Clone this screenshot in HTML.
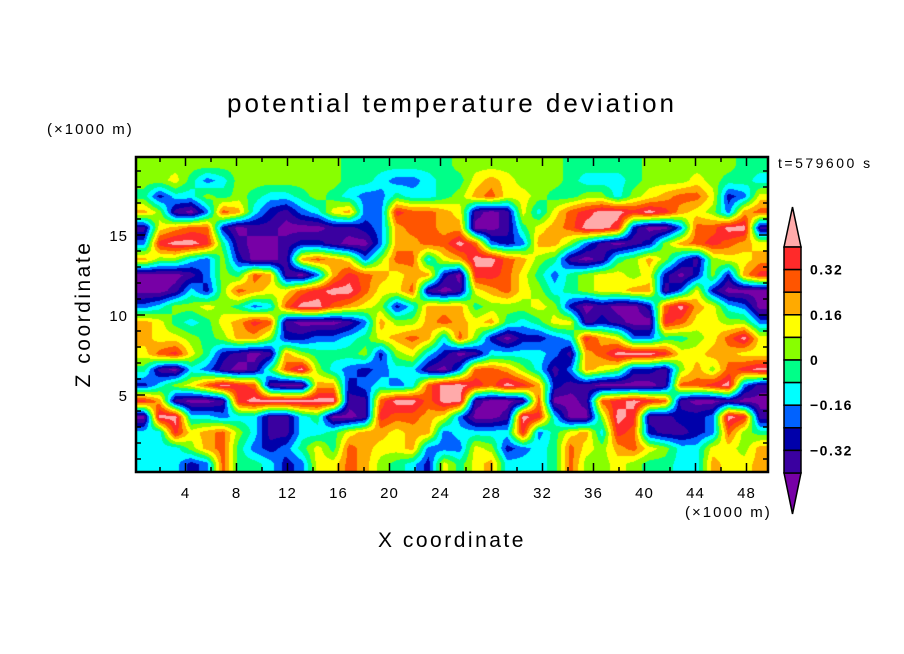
<!DOCTYPE html>
<html><head><meta charset="utf-8"><style>
body{margin:0;background:#fff;width:904px;height:654px;overflow:hidden;position:relative;font-family:"Liberation Sans","DejaVu Sans",sans-serif}
canvas{position:absolute;left:136px;top:157px}
svg{position:absolute;left:0;top:0}
</style></head><body>
<canvas id="field" width="632" height="315"></canvas>
<svg id="ov" width="904" height="654"></svg>
<script>
// potential temperature deviation, values in 0.01 K, rows top (z high) to bottom (z low), 40 columns across x
const fieldRows = [
[4,4,4,4,4,4,4,4,4,4,4,4,4,-4,-4,-4,-4,-4,-4,-4,4,4,4,4,4,4,4,-4,-4,-4,-4,-4,4,4,4,4,4,4,-4,-4],
[4,4,12,-4,-20,-12,4,4,4,4,4,4,4,-4,-4,-12,-20,-20,-12,-4,-4,12,20,12,4,4,4,-4,-12,-12,-12,-4,4,4,4,12,4,-4,-4,-12],
[-4,-28,-12,-12,4,-4,4,-4,-12,-12,-4,4,-4,-12,-20,-20,-4,-12,-12,-4,4,20,28,12,12,4,-4,-4,4,4,-12,4,12,20,28,28,12,-28,-20,12],
[20,4,-36,-44,-20,28,20,-12,-28,-36,-20,-12,12,20,-20,-20,36,28,28,20,12,-36,-44,-36,12,-12,12,28,36,44,44,36,44,36,20,12,4,-20,20,28],
[-36,12,20,28,28,-28,-44,-36,-36,-44,-44,-44,-36,-36,-28,-20,20,28,28,20,20,-44,-44,-36,-4,12,20,28,44,44,36,-28,-44,-44,-20,28,28,44,44,-36],
[-20,36,44,44,36,-4,-36,-44,-44,-36,-28,-28,-36,-44,-44,-20,20,20,28,28,44,28,-20,-28,-20,20,20,4,-20,-36,-44,-36,-28,4,20,28,36,28,20,12],
[20,4,4,-12,-20,4,-28,-44,-44,-36,20,28,20,12,-20,4,28,28,-12,12,20,44,44,28,20,4,-4,-36,-44,-36,-4,4,20,4,-20,-36,4,12,12,20],
[-44,-44,-44,-36,-20,4,-4,28,20,-36,-44,-20,20,36,28,20,12,20,20,-28,-44,36,36,28,12,-4,-20,-4,4,12,12,4,12,-28,-44,-28,4,-28,20,36],
[-44,-44,-36,-12,-28,4,28,20,12,12,28,36,44,44,28,12,12,28,-36,-44,-36,12,20,28,12,4,-12,-4,4,12,12,20,20,-36,-20,12,-28,-44,-44,-44],
[-20,-12,4,4,12,4,-4,-20,-12,28,44,44,28,20,12,4,-28,-12,20,20,20,-4,4,4,4,12,4,-28,-44,-36,-44,-44,-28,28,44,20,12,-12,-20,-44],
[20,12,-4,-12,-4,12,20,36,28,-36,-44,-44,-44,-36,-20,20,4,4,20,28,20,12,20,-4,-12,-4,12,12,-36,-28,-36,-44,-44,36,28,12,12,4,4,-20],
[20,12,12,4,-4,4,20,20,4,-28,-28,-20,-20,-12,-4,12,20,28,20,-12,28,4,-28,-44,-28,-28,-20,-12,36,20,12,-20,-20,-4,-4,4,12,28,44,12],
[12,28,36,12,-4,-28,-36,-44,-36,20,4,-4,-4,-4,4,-28,4,12,-12,-28,-44,-36,-12,-12,-12,-12,-20,-36,20,28,44,44,44,36,12,12,20,20,12,12],
[-4,-36,-44,-12,-20,-36,-44,-36,-4,28,44,4,-12,-20,-28,-20,-12,-12,-36,-44,-20,28,28,20,4,-12,-36,-20,20,12,4,-28,-28,-36,4,20,4,28,36,44],
[-28,-12,4,12,28,44,36,28,-36,-44,-44,20,20,-28,-20,-12,-20,-12,28,44,44,36,28,44,36,20,-28,-36,-36,-44,-44,-44,-44,-36,28,28,36,44,-20,-36],
[36,20,-36,-44,-44,-36,36,44,44,44,44,44,44,-36,-36,28,44,44,28,44,44,-36,-44,-44,-36,28,-44,-44,-36,28,36,44,36,28,-36,-44,-44,-36,-44,-44],
[-44,44,44,-12,-12,-20,-12,-12,-36,-36,-12,-4,-44,-44,-36,36,28,28,20,12,-20,-44,-44,-36,44,36,-12,-44,-44,4,44,36,-36,-36,-28,-28,-20,44,36,-36],
[-12,-12,36,12,20,28,4,-12,-36,-36,-12,-12,-4,12,20,20,12,20,20,-20,-12,-12,-12,-12,36,-20,-4,12,20,-12,36,28,-28,-36,-36,-28,-20,28,4,-4],
[-12,-12,-12,4,20,28,-4,-20,-28,-20,-4,12,-4,28,20,12,12,20,-20,-20,-20,12,4,-28,-20,-12,-4,28,12,4,20,28,12,4,-12,-12,12,12,4,20],
[-12,-12,-12,-28,-20,28,-4,-4,-12,-28,-20,12,12,28,20,4,-4,-12,-28,12,-4,12,20,-12,-12,-12,-4,28,4,4,12,4,-4,-4,-12,-12,20,12,12,20]
];
const contourLevels = [-0.40,-0.32,-0.24,-0.16,-0.08,0,0.08,0.16,0.24,0.32,0.40];
const levelColors = ['#7700a6','#3a00a0','#0000aa','#0062ff','#00ffff','#00ff88','#88ff00','#ffff00','#ffaa00','#ff5500','#ff2a2a','#ffaaaa'];
const xTickValues = [4,8,12,16,20,24,28,32,36,40,44,48];
const yTickValues = [5,10,15];
const colorbarLabels = [0.32,0.16,0,-0.16,-0.32];

const PX0=136,PX1=768,PY0=157,PY1=472;
const xScale = v => 134.5 + 12.75*v;
const yScale = v => 475 - 16*v;

(function(){
  const cv=document.getElementById('field'),ctx=cv.getContext('2d');
  const W=cv.width,H=cv.height,R=fieldRows.length,C=fieldRows[0].length;
  const img=ctx.createImageData(W,H);
  const rgb=levelColors.map(h=>[parseInt(h.substr(1,2),16),parseInt(h.substr(3,2),16),parseInt(h.substr(5,2),16)]);
  for(let py=0;py<H;py++){
    let gy=(py+0.5)/H*R-0.5; gy=Math.max(0,Math.min(R-1,gy));
    const r0=Math.floor(gy),r1=Math.min(R-1,r0+1),fy=gy-r0;
    for(let px=0;px<W;px++){
      let gx=(px+0.5)/W*C-0.5; gx=Math.max(0,Math.min(C-1,gx));
      const c0=Math.floor(gx),c1=Math.min(C-1,c0+1),fx=gx-c0;
      const v=((fieldRows[r0][c0]*(1-fx)+fieldRows[r0][c1]*fx)*(1-fy)+(fieldRows[r1][c0]*(1-fx)+fieldRows[r1][c1]*fx)*fy)/100;
      let k=0;while(k<contourLevels.length&&v>=contourLevels[k])k++;
      const i=(py*W+px)*4;img.data[i]=rgb[k][0];img.data[i+1]=rgb[k][1];img.data[i+2]=rgb[k][2];img.data[i+3]=255;
    }
  }
  ctx.putImageData(img,0,0);
})();

const NS='http://www.w3.org/2000/svg',svg=document.getElementById('ov');
function el(tag,attrs,text){const e=document.createElementNS(NS,tag);for(const k in attrs)e.setAttribute(k,attrs[k]);if(text!==undefined)e.textContent=text;svg.appendChild(e);return e;}

let e;
e=el('rect',{x:PX0,y:PY0,width:PX1-PX0,height:PY1-PY0,fill:'none',stroke:'#000','stroke-width':2.5});


for(let v=2;v<50;v+=2){const x=xScale(v);if(x>=PX1)continue;const L=(v%4===0)?9:5;
  e=el('line',{x1:x,y1:PY1,x2:x,y2:PY1-L,stroke:'#000','stroke-width':1.5});
  
  
  e=el('line',{x1:x,y1:PY0,x2:x,y2:PY0+L,stroke:'#000','stroke-width':1.5});
  
  
}
xTickValues.forEach(v=>{
  e=el('text',{x:xScale(v),y:498,'text-anchor':'middle','font-size':15,'letter-spacing':1},String(v));
  
  
});
for(let v=1;v<20;v++){const y=yScale(v);if(y<=PY0||y>=PY1)continue;const L=(v%5===0)?9:5;
  e=el('line',{x1:PX0,y1:y,x2:PX0+L,y2:y,stroke:'#000','stroke-width':1.5});
  
  
  e=el('line',{x1:PX1,y1:y,x2:PX1-L,y2:y,stroke:'#000','stroke-width':1.5});
  
  
}
yTickValues.forEach(v=>{
  e=el('text',{x:128,y:yScale(v)+6,'text-anchor':'end','font-size':15,'letter-spacing':1},String(v));
  
  
});
e=el('text',{x:452,y:112,'text-anchor':'middle','font-size':26,'letter-spacing':3},'potential temperature deviation');


e=el('text',{x:47,y:134,'font-size':15,'letter-spacing':2},'(×1000 m)');


e=el('text',{x:685,y:517,'font-size':15,'letter-spacing':2},'(×1000 m)');


e=el('text',{x:452,y:547,'text-anchor':'middle','font-size':21,'letter-spacing':2.5},'X coordinate');


e=el('text',{x:0,y:0,'text-anchor':'middle','font-size':21,'letter-spacing':2.5,transform:'translate(90,314) rotate(-90)'},'Z coordinate');


e=el('text',{x:778,y:168,'font-size':14,'letter-spacing':2.5},'t=579600 s');



const CB0=784,CB1=801,CBT=247,CBB=473,nb=levelColors.length-2,bh=(CBB-CBT)/nb;
e=el('polygon',{points:`${CB0},${CBT} ${(CB0+CB1)/2},207 ${CB1},${CBT}`,fill:levelColors[levelColors.length-1],stroke:'#000','stroke-width':1.5});


e=el('polygon',{points:`${CB0},${CBB} ${(CB0+CB1)/2},514 ${CB1},${CBB}`,fill:levelColors[0],stroke:'#000','stroke-width':1.5});


for(let i=0;i<nb;i++){
  e=el('rect',{x:CB0,y:CBT+i*bh,width:CB1-CB0,height:bh,fill:levelColors[levelColors.length-2-i],stroke:'#000','stroke-width':1.5});
  
  
}
const cbY=v=>CBT+(0.40-v)/0.08*bh;
colorbarLabels.forEach(v=>{
  const t=v===0?'0':(v<0?'−'+Math.abs(v).toFixed(2):v.toFixed(2));
  e=el('text',{x:810,y:cbY(v)+5,'font-size':14,'letter-spacing':1.5,'font-weight':'bold'},t);
  
  
});
</script>
</body></html>
